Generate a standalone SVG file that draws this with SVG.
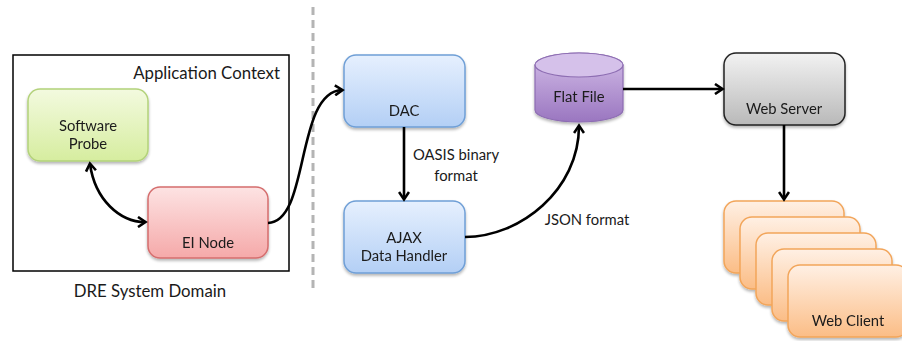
<svg xmlns="http://www.w3.org/2000/svg" width="902" height="341" viewBox="0 0 902 341">
<style>
text{font-family:Lato,"Open Sans","Liberation Sans",sans-serif;fill:#1a1a1a;font-size:14.8px;text-anchor:middle}
.big{font-size:16.8px}
.conn{fill:none;stroke:#000;stroke-width:2.6}
.node{filter:url(#sh)}
</style>
<defs>
<filter id="sh" x="-10%" y="-10%" width="125%" height="130%">
<feGaussianBlur in="SourceAlpha" stdDeviation="1.5"/>
<feOffset dx="0" dy="2" result="b"/>
<feComponentTransfer><feFuncA type="linear" slope="0.3"/></feComponentTransfer>
<feMerge><feMergeNode/><feMergeNode in="SourceGraphic"/></feMerge>
</filter>
<linearGradient id="gG" x1="0" y1="0" x2="0" y2="1"><stop offset="0" stop-color="#f3fadf"/><stop offset="1" stop-color="#d6ed9f"/></linearGradient>
<linearGradient id="gR" x1="0" y1="0" x2="0" y2="1"><stop offset="0" stop-color="#fde3e3"/><stop offset="1" stop-color="#f5a9a9"/></linearGradient>
<linearGradient id="gB" x1="0" y1="0" x2="0" y2="1"><stop offset="0" stop-color="#e6f0fe"/><stop offset="1" stop-color="#b3cff5"/></linearGradient>
<linearGradient id="gP" x1="0" y1="0" x2="0" y2="1"><stop offset="0" stop-color="#d3bde8"/><stop offset="1" stop-color="#9a76c0"/></linearGradient>
<linearGradient id="gS" x1="0" y1="0" x2="0" y2="1"><stop offset="0" stop-color="#f2f2f2"/><stop offset="1" stop-color="#b9b9b9"/></linearGradient>
<linearGradient id="gO" x1="0" y1="0" x2="0" y2="1"><stop offset="0" stop-color="#fff0e4"/><stop offset="1" stop-color="#fbbd86"/></linearGradient>
<marker id="ah" markerWidth="12" markerHeight="12" refX="9" refY="6" orient="auto" markerUnits="userSpaceOnUse">
<path d="M2,1 L9.5,6 L2,11" fill="none" stroke="#000" stroke-width="2.6"/>
</marker>
<marker id="ahs" markerWidth="12" markerHeight="12" refX="3" refY="6" orient="auto" markerUnits="userSpaceOnUse">
<path d="M10,1 L2.5,6 L10,11" fill="none" stroke="#000" stroke-width="2.6"/>
</marker>
</defs>

<g id="domain">
<rect x="13" y="55" width="276" height="216" fill="#fff" stroke="#000" stroke-width="1.5"/>
<text class="big" x="280" y="79" style="text-anchor:end">Application Context</text>
<text class="big" x="150" y="297">DRE System Domain</text>
</g>

<line id="divider" x1="313" y1="7" x2="313" y2="292" stroke="#b4b4b4" stroke-width="3" stroke-dasharray="8,5"/>

<g id="software-probe" class="node">
<rect x="28" y="89" width="120" height="72" rx="12" fill="url(#gG)" stroke="#b3d27a" stroke-width="1.5"/>
<text x="88" y="131">Software</text>
<text x="88" y="149">Probe</text>
</g>

<g id="ei-node" class="node">
<rect x="148" y="187" width="120" height="71" rx="12" fill="url(#gR)" stroke="#d56e6e" stroke-width="1.5"/>
<text x="208" y="248">EI Node</text>
</g>

<g id="dac" class="node">
<rect x="344" y="55" width="121" height="72" rx="12" fill="url(#gB)" stroke="#6f9fd6" stroke-width="1.5"/>
<text x="404" y="116">DAC</text>
</g>

<g id="ajax" class="node">
<rect x="344" y="201" width="121" height="72" rx="12" fill="url(#gB)" stroke="#6f9fd6" stroke-width="1.5"/>
<text x="404" y="243">AJAX</text>
<text x="404" y="261">Data Handler</text>
</g>

<g id="flat-file" class="node">
<path d="M535,65 L535,110 A44,12 0 0 0 623,110 L623,65 A44,12 0 0 0 535,65 Z" fill="url(#gP)" stroke="#8d6db2" stroke-width="1.2"/>
<ellipse cx="579" cy="65" rx="44" ry="12" fill="#d5c1ea" stroke="#8d6db2" stroke-width="1.2"/>
<text x="579" y="102">Flat File</text>
</g>

<g id="web-server" class="node">
<rect x="724" y="53" width="121" height="72" rx="12" fill="url(#gS)" stroke="#222" stroke-width="1.5"/>
<text x="784" y="114">Web Server</text>
</g>

<g id="web-client" class="node">
<rect x="724" y="201" width="120" height="72" rx="12" fill="url(#gO)" stroke="#f2a55a" stroke-width="1.5"/>
<rect x="740" y="217" width="120" height="72" rx="12" fill="url(#gO)" stroke="#f2a55a" stroke-width="1.5"/>
<rect x="756" y="233" width="120" height="72" rx="12" fill="url(#gO)" stroke="#f2a55a" stroke-width="1.5"/>
<rect x="772" y="249" width="120" height="72" rx="12" fill="url(#gO)" stroke="#f2a55a" stroke-width="1.5"/>
<rect x="788" y="265" width="120" height="72" rx="12" fill="url(#gO)" stroke="#f2a55a" stroke-width="1.5"/>
<text x="848" y="326">Web Client</text>
</g>

<g id="connectors">
<path class="conn" d="M90,164 C95,200 120,222 145,222" marker-start="url(#ahs)" marker-end="url(#ah)"/>
<path class="conn" d="M268,223 C310,222 295,92 342,90" marker-end="url(#ah)"/>
<path class="conn" d="M404,127 L404,199" marker-end="url(#ah)"/>
<path class="conn" d="M465,237 C520,237 579,190 579,126" marker-end="url(#ah)"/>
<path class="conn" d="M623,89 L722,89" marker-end="url(#ah)"/>
<path class="conn" d="M784,125 L784,199" marker-end="url(#ah)"/>
<text x="456" y="160">OASIS binary</text>
<text x="456" y="181">format</text>
<text x="587" y="225">JSON format</text>
</g>
</svg>
